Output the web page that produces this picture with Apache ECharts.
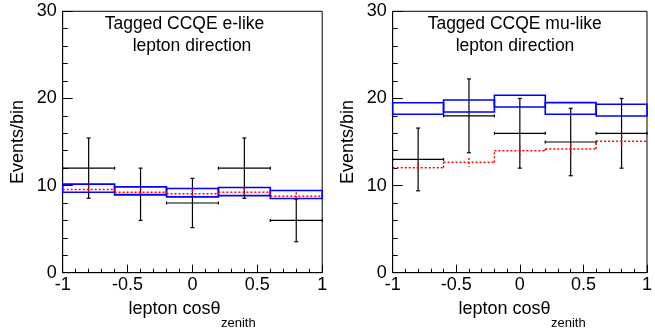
<!DOCTYPE html>
<html><head><meta charset="utf-8">
<script src="https://cdn.jsdelivr.net/npm/echarts@6/dist/echarts.min.js"></script>
<style>html,body{margin:0;padding:0;background:#fff}#c{width:655px;height:329px}</style>
</head><body><div id="c"></div>
<script>
// ---- data ----
const binLow = [-1, -0.6, -0.2, 0.2, 0.6];
const binHigh = [-0.6, -0.2, 0.2, 0.6, 1];
const binCenter = [-0.8, -0.4, 0, 0.4, 0.8];

const eTitle = ['Tagged CCQE e-like', 'lepton direction'];
const muTitle = ['Tagged CCQE mu-like', 'lepton direction'];
const yName = 'Events/bin';
const xNameMain = 'lepton cos\u03b8';
const xNameSub = 'zenith';

// e-like panel
const eData = [12, 9, 8, 12, 6];
const eDataErr = [3.46, 3.0, 2.83, 3.46, 2.45];
const eBandHi = [10.16, 9.85, 9.66, 9.77, 9.43];
const eBandLo = [9.24, 8.93, 8.70, 8.85, 8.51];
const eMC = [9.54, 9.24, 9.05, 9.24, 8.78];
const eMCErr = [0.45, 0.45, 0.45, 0.45, 0.45];

// mu-like panel
const muData = [13, 18, 16, 15, 16];
const muDataErr = [3.6, 4.24, 4.0, 3.87, 4.0];
const muBandHi = [19.5, 19.82, 20.36, 19.52, 19.33];
const muBandLo = [18.18, 18.45, 19.02, 18.18, 17.99];
const muMC = [12.05, 12.67, 14.0, 14.2, 15.08];
const muMCErr = [0.5, 0.5, 0.55, 0.55, 0.6];

// ---- rendering ----
const FONT = '"Liberation Sans", Arial, Helvetica, sans-serif';

function seg(x1, y1, x2, y2, style) {
  return { type: 'line', shape: { x1: x1, y1: y1, x2: x2, y2: y2 }, style: style };
}

function dataRender(params, api) {
  const xl = api.value(0), xh = api.value(1), xc = api.value(2), y = api.value(3), e = api.value(4);
  const pl = api.coord([xl, y]), ph = api.coord([xh, y]);
  const pt = api.coord([xc, y + e]), pb = api.coord([xc, y - e]);
  const st = { stroke: '#000', lineWidth: 1.2 };
  return { type: 'group', children: [
    seg(pl[0], pl[1], ph[0], ph[1], st),
    seg(pt[0], pt[1], pb[0], pb[1], st),
    seg(pt[0] - 2, pt[1], pt[0] + 2, pt[1], st),
    seg(pb[0] - 2, pb[1], pb[0] + 2, pb[1], st),
    seg(pl[0], pl[1] - 1.5, pl[0], pl[1] + 1.5, st),
    seg(ph[0], ph[1] - 1.5, ph[0], ph[1] + 1.5, st)
  ]};
}

function bandRender(params, api) {
  const xl = api.value(0), xh = api.value(1), hi = api.value(2), lo = api.value(3);
  const a = api.coord([xl, hi]), b = api.coord([xh, lo]);
  return { type: 'rect', shape: { x: a[0], y: a[1], width: b[0] - a[0], height: b[1] - a[1] },
    style: { stroke: '#0000ff', lineWidth: 1.6, fill: 'none' } };
}

function mcRender(params, api) {
  const xl = api.value(0), xh = api.value(1), xc = api.value(2), y = api.value(3), e = api.value(4), prev = api.value(5);
  const pl = api.coord([xl, y]), ph = api.coord([xh, y]);
  const pt = api.coord([xc, y + e]), pb = api.coord([xc, y - e]);
  const pp = api.coord([xl, prev]);
  const st = { stroke: '#ff0000', lineWidth: 1.5, lineDash: [2, 2] };
  return { type: 'group', children: [
    seg(pl[0], pl[1], ph[0], ph[1], st),
    seg(pt[0], pt[1], pb[0], pb[1], st),
    seg(pp[0], pp[1], pl[0], pl[1], st)
  ]};
}

function panelSeries(idx, data, dataErr, hi, lo, mc, mcErr) {
  return [
    { type: 'custom', xAxisIndex: idx, yAxisIndex: idx, renderItem: dataRender, silent: true, z: 2,
      encode: { x: [0, 1], y: [3] },
      data: binLow.map((v, i) => [binLow[i], binHigh[i], binCenter[i], data[i], dataErr[i]]) },
    { type: 'custom', xAxisIndex: idx, yAxisIndex: idx, renderItem: bandRender, silent: true, z: 3,
      encode: { x: [0, 1], y: [2, 3] },
      data: binLow.map((v, i) => [binLow[i], binHigh[i], hi[i], lo[i]]) },
    { type: 'custom', xAxisIndex: idx, yAxisIndex: idx, renderItem: mcRender, silent: true, z: 4,
      encode: { x: [0, 1], y: [3] },
      data: binLow.map((v, i) => [binLow[i], binHigh[i], binCenter[i], mc[i], mcErr[i], i > 0 ? mc[i - 1] : mc[i]]) }
  ];
}

function xAxisCfg(idx) {
  return {
    type: 'value', gridIndex: idx, min: -1, max: 1, interval: 0.5,
    axisLine: { show: true, onZero: false, lineStyle: { color: '#000', width: 1 } },
    axisTick: { show: true, inside: true, length: 8, lineStyle: { color: '#000', width: 1 } },
    minorTick: { show: true, splitNumber: 5, length: 4, lineStyle: { color: '#000', width: 1 } },
    axisLabel: { fontSize: 18, fontFamily: FONT, color: '#000', margin: 3, hideOverlap: false },
    splitLine: { show: false }, minorSplitLine: { show: false }
  };
}
function yAxisCfg(idx) {
  return {
    type: 'value', gridIndex: idx, min: 0, max: 30, interval: 10,
    name: yName, nameLocation: 'middle', nameGap: 36,
    nameTextStyle: { fontSize: 18, fontFamily: FONT, color: '#000' },
    axisLine: { show: true, onZero: false, lineStyle: { color: '#000', width: 1 } },
    axisTick: { show: true, inside: true, length: 10, lineStyle: { color: '#000', width: 1 } },
    minorTick: { show: true, splitNumber: 5, length: 5, lineStyle: { color: '#000', width: 1 } },
    axisLabel: { fontSize: 18, fontFamily: FONT, color: '#000', margin: 6 },
    splitLine: { show: false }, minorSplitLine: { show: false }
  };
}

function txt(x, y, s, size, align) {
  return { type: 'text', x: x, y: y, silent: true, z: 100,
    style: { text: s, fontSize: size, fontFamily: FONT, fill: '#000', align: align, verticalAlign: 'middle' } };
}

const chart = echarts.init(document.getElementById('c'), null, { renderer: 'canvas' });
chart.setOption({
  animation: false,
  backgroundColor: '#fff',
  grid: [
    { left: 62.7, top: 11.3, width: 259.5, height: 261.4, show: true, borderColor: '#000', borderWidth: 1, backgroundColor: 'transparent' },
    { left: 392.7, top: 11.3, width: 259.6, height: 261.4, show: true, borderColor: '#000', borderWidth: 1, backgroundColor: 'transparent' }
  ],
  xAxis: [xAxisCfg(0), xAxisCfg(1)],
  yAxis: [yAxisCfg(0), yAxisCfg(1)],
  graphic: [
    txt(184.5, 24, eTitle[0], 17.5, 'center'),
    txt(192, 46, eTitle[1], 17.5, 'center'),
    txt(514.7, 24, muTitle[0], 17.5, 'center'),
    txt(515, 46, muTitle[1], 17.5, 'center'),
    txt(220.5, 309, xNameMain, 18, 'right'),
    txt(221, 323, xNameSub, 13, 'left'),
    txt(550.5, 309, xNameMain, 18, 'right'),
    txt(551, 323, xNameSub, 13, 'left')
  ],
  series: [].concat(
    panelSeries(0, eData, eDataErr, eBandHi, eBandLo, eMC, eMCErr),
    panelSeries(1, muData, muDataErr, muBandHi, muBandLo, muMC, muMCErr)
  )
});
</script>
</body></html>
